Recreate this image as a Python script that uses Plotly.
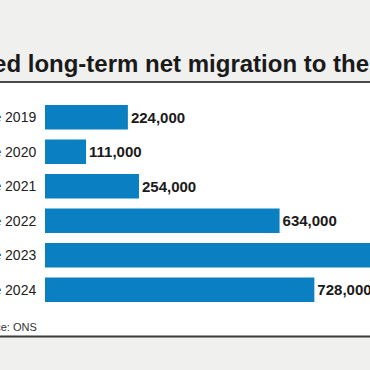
import plotly.graph_objects as go

categories = ["Year ending June 2019", "Year ending June 2020", "Year ending June 2021",
              "Year ending June 2022", "Year ending June 2023", "Year ending June 2024"]
values = [224000, 111000, 254000, 634000, 906000, 728000]
title_text = "Revised long-term net migration to the UK"
source_text = "Source: ONS"

W, H = 370, 370
L, R, T, B = 45, 0, 100, 63
pw, ph = W - L - R, H - T - B

def px_x(p):
    return (p - L) / pw

def px_y(p):
    return (H - B - p) / ph

FONT = "Liberation Sans, Arial, sans-serif"

fig = go.Figure(go.Bar(
    y=categories, x=values, orientation="h",
    marker=dict(color="#0a80c2", line=dict(width=0)),
    texttemplate="%{x:,}", textposition="outside",
    textfont=dict(family=FONT, size=15, color="#1a1a1a", weight="bold"),
    constraintext="none", cliponaxis=True,
    hoverinfo="skip",
))

fig.update_layout(
    width=W, height=H,
    margin=dict(l=L, r=R, t=T, b=B, autoexpand=False),
    paper_bgcolor="#f0f0ee", plot_bgcolor="rgba(0,0,0,0)",
    bargap=0.29, showlegend=False,
    xaxis=dict(visible=False, range=[0, pw / 0.37 * 1000], fixedrange=True),
    yaxis=dict(autorange="reversed", showgrid=False, zeroline=False, showline=False,
               ticks="outside", ticklen=5, tickcolor="rgba(0,0,0,0)", fixedrange=True,
               tickfont=dict(family=FONT, size=14, color="#222222"), automargin=False),
    font=dict(family=FONT),
    shapes=[
        dict(type="rect", xref="paper", yref="paper", x0=px_x(-20), x1=px_x(400),
             y0=px_y(337), y1=px_y(83), fillcolor="white", line=dict(width=0), layer="below"),
        dict(type="line", xref="paper", yref="paper", x0=px_x(-20), x1=px_x(400),
             y0=px_y(82), y1=px_y(82), line=dict(color="#4a4a4a", width=2)),
        dict(type="line", xref="paper", yref="paper", x0=px_x(-20), x1=px_x(400),
             y0=px_y(336.5), y1=px_y(336.5), line=dict(color="#3a3a3a", width=2)),
    ],
    annotations=[
        dict(text=title_text, xref="paper", yref="paper", x=px_x(-73), y=px_y(64),
             xanchor="left", yanchor="middle", showarrow=False,
             font=dict(family=FONT, size=24, color="#1a1a1a", weight="bold")),
        dict(text=source_text, xref="paper", yref="paper", x=px_x(39), y=px_y(327),
             xanchor="right", yanchor="middle", showarrow=False,
             font=dict(family=FONT, size=11, color="#333333")),
    ],
)

fig.write_html("out.html", config={"displayModeBar": False, "staticPlot": True},
               post_script="document.body.style.margin='0';document.body.style.overflow='hidden';")
